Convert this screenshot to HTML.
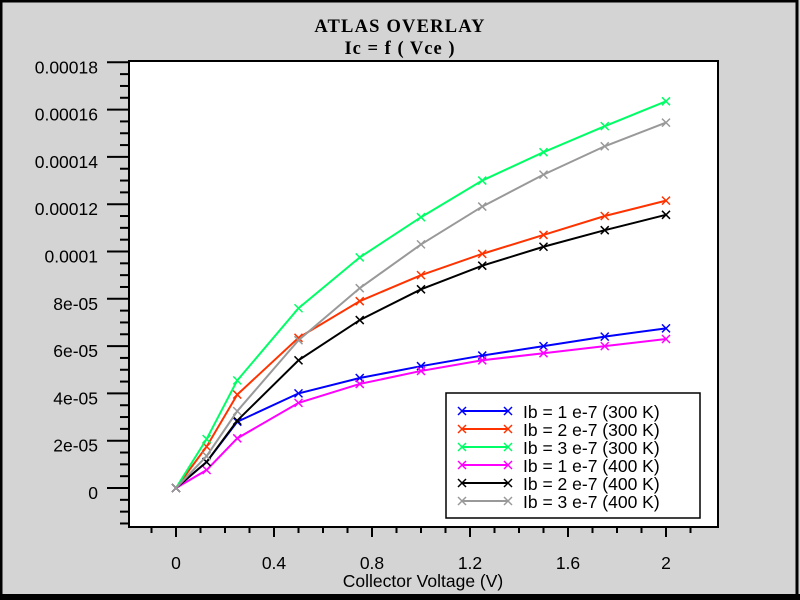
<!DOCTYPE html>
<html><head><meta charset="utf-8"><style>
body{margin:0;background:#d4d4d4;}
svg{display:block;font-family:"Liberation Sans",sans-serif;}
</style></head><body>
<svg width="800" height="600">
<rect x="0" y="0" width="800" height="600" fill="#d4d4d4"/>
<rect x="1" y="1" width="796" height="595" fill="none" stroke="#000" stroke-width="3"/>
<rect x="0" y="594" width="800" height="6" fill="#000"/>
<text x="400" y="32" text-anchor="middle" font-weight="bold" font-size="18.5" letter-spacing="1.2" font-family="Liberation Serif, serif">ATLAS OVERLAY</text>
<text x="400" y="54" text-anchor="middle" font-weight="bold" font-size="18.5" letter-spacing="1" font-family="Liberation Serif, serif">Ic = f ( Vce )</text>
<rect x="129" y="61" width="589" height="466" fill="#fff" stroke="#000" stroke-width="2"/>
<g id="ticks"></g>
<g id="series"></g>
<text x="423" y="587" text-anchor="middle" font-size="17.5">Collector Voltage (V)</text>
<g>
<rect x="446" y="393" width="254" height="125" fill="#fff" stroke="#000" stroke-width="1.5"/>
<g id="legend"></g>
</g>
</svg>
<script>
const xValues=[0,0.125,0.25,0.5,0.75,1,1.25,1.5,1.75,2];
const s1=[0,1.1e-5,2.8e-5,4.0e-5,4.65e-5,5.15e-5,5.6e-5,6.0e-5,6.4e-5,6.75e-5];
const s2=[0,1.75e-5,3.95e-5,6.35e-5,7.9e-5,9.0e-5,9.9e-5,1.07e-4,1.15e-4,1.215e-4];
const s3=[0,2.07e-5,4.55e-5,7.6e-5,9.75e-5,1.145e-4,1.3e-4,1.42e-4,1.53e-4,1.635e-4];
const s4=[0,7.6e-6,2.1e-5,3.6e-5,4.4e-5,4.95e-5,5.4e-5,5.7e-5,6.0e-5,6.3e-5];
const s5=[0,1.1e-5,2.85e-5,5.4e-5,7.1e-5,8.4e-5,9.4e-5,1.02e-4,1.09e-4,1.155e-4];
const s6=[0,1.35e-5,3.25e-5,6.25e-5,8.45e-5,1.03e-4,1.19e-4,1.325e-4,1.445e-4,1.545e-4];
const seriesNames=["Ib = 1 e-7 (300 K)","Ib = 2 e-7 (300 K)","Ib = 3 e-7 (300 K)","Ib = 1 e-7 (400 K)","Ib = 2 e-7 (400 K)","Ib = 3 e-7 (400 K)"];
const xTickLabels=["0","0.4","0.8","1.2","1.6","2"];
const yTickLabels=["0","2e-05","4e-05","6e-05","8e-05","0.0001","0.00012","0.00014","0.00016","0.00018"];
const allSeries=[s1,s2,s3,s4,s5,s6];
const colors=["#0000ff","#ff3300","#00ff66","#ff00ff","#000000","#999999"];
const NS="http://www.w3.org/2000/svg";
const X=v=>176+v*245;
const Y=v=>488-v/2e-5*47.3;
function mk(t,a,p){const e=document.createElementNS(NS,t);for(const k in a)e.setAttribute(k,a[k]);p.appendChild(e);return e;}
const tk=document.getElementById('ticks');
for(let i=-1;i<=21;i++){const v=i*0.1;const x=X(v);if(x<130||x>717)continue;const maj=i%4===0&&i>=0;
 const l=mk('line',{x1:x,y1:528,x2:x,y2:maj?537:533,stroke:'#000','stroke-width':2},tk);
 }
xTickLabels.forEach((s,i)=>{const t=mk('text',{x:X(i*0.4),y:569,'text-anchor':'middle','font-size':17.5},tk);t.textContent=s;
 });
for(let i=-3;i<=37;i++){const v=i*5e-6;const y=Y(v);if(y<60||y>526)continue;const maj=i%4===0&&i>=0;
 const l=mk('line',{x1:maj?107:120,y1:y,x2:128,y2:y,stroke:'#000','stroke-width':2},tk);
 }
yTickLabels.forEach((s,i)=>{const t=mk('text',{x:98,y:Y(i*2e-5)+11,'text-anchor':'end','font-size':17.5},tk);t.textContent=s;
 });
const sg=document.getElementById('series');
function cross(x,y,c,g){const p=mk('path',{d:`M${x-4},${y-4}L${x+4},${y+4}M${x-4},${y+4}L${x+4},${y-4}`,stroke:c,'stroke-width':1.5,fill:'none'},g);
 }
allSeries.forEach((s,k)=>{const g=mk('g',{},sg);
 const pl=mk('polyline',{points:s.map((v,i)=>X(xValues[i])+','+Y(v)).join(' '),fill:'none',stroke:colors[k],'stroke-width':2},g);
 
 s.forEach((v,i)=>cross(X(xValues[i]),Y(v),colors[k],g));});
const lg=document.getElementById('legend');
seriesNames.forEach((n,k)=>{const y=411+k*18;const g=mk('g',{},lg);
 mk('line',{x1:462,y1:y,x2:508,y2:y,stroke:colors[k],'stroke-width':2},g);cross(462,y,colors[k],g);cross(508,y,colors[k],g);
 const t=mk('text',{x:523,y:y+7,'font-size':17.5},g);t.textContent=n;});
</script>
</body></html>
